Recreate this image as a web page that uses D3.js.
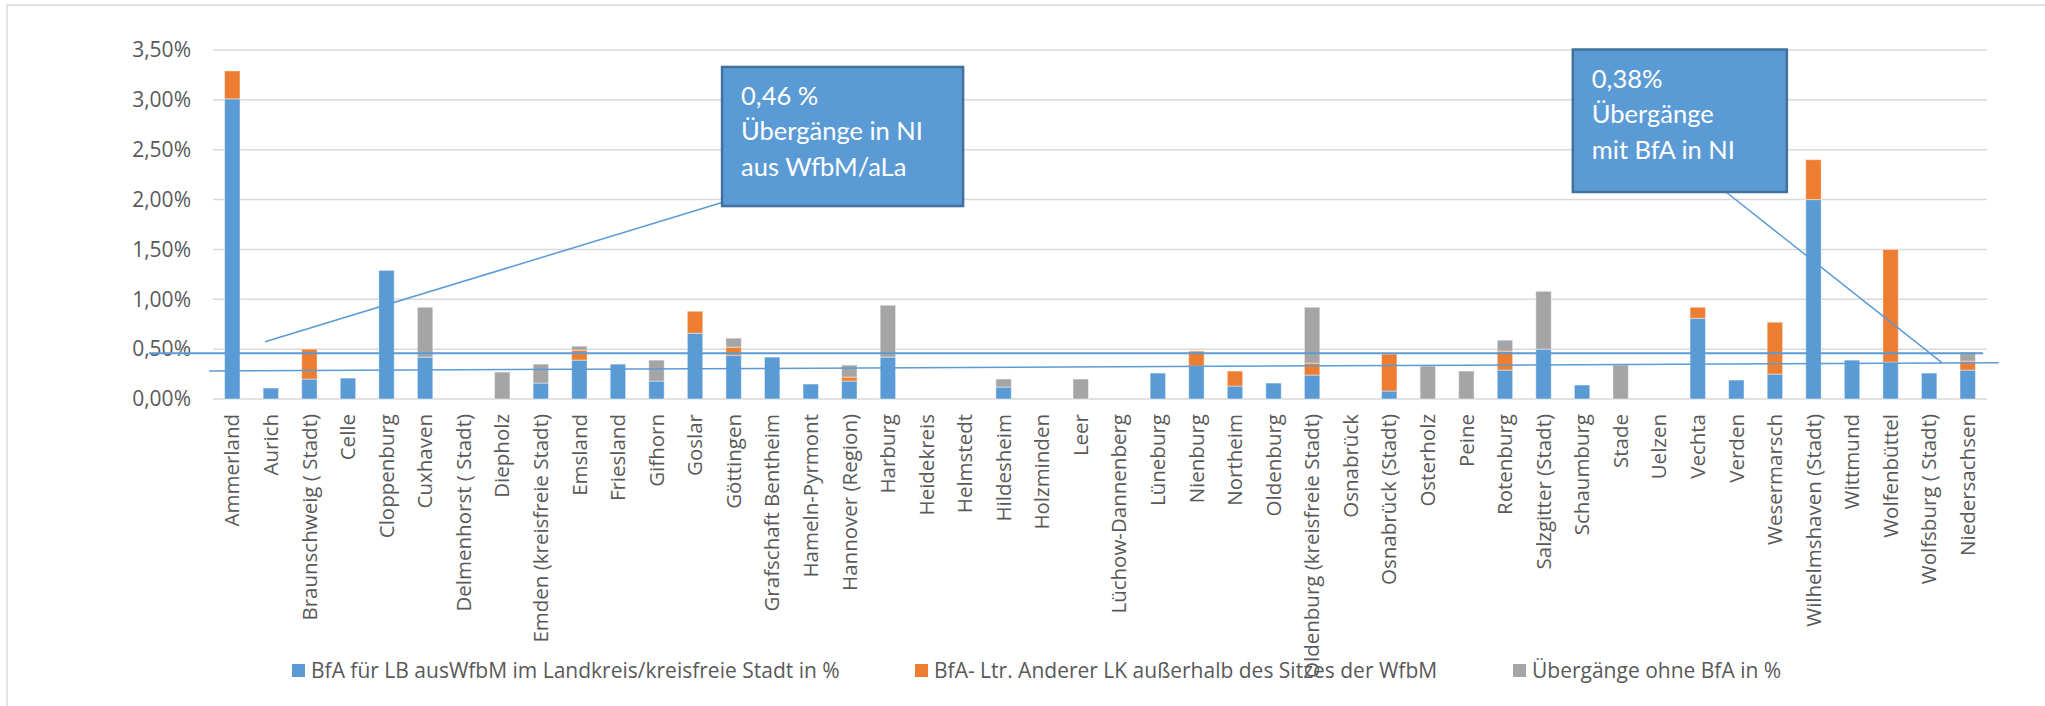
<!DOCTYPE html>
<html>
<head>
<meta charset="utf-8">
<script src="https://cdn.jsdelivr.net/npm/d3@7"></script>
<style>
  html, body { margin: 0; padding: 0; background: #fff; }
  svg { display: block; }
  text { font-family: "Open Sans", sans-serif; fill: #595959; }
</style>
</head>
<body>
<svg id="chart" width="2045" height="706"></svg>
<script>
// Kategorien (Landkreise / kreisfreie Städte)
const kreise = [
  "Ammerland", "Aurich", "Braunschweig ( Stadt)", "Celle", "Cloppenburg", "Cuxhaven",
  "Delmenhorst ( Stadt)", "Diepholz", "Emden (kreisfreie Stadt)", "Emsland", "Friesland",
  "Gifhorn", "Goslar", "Göttingen", "Grafschaft Bentheim", "Hameln-Pyrmont",
  "Hannover (Region)", "Harburg", "Heidekreis", "Helmstedt", "Hildesheim", "Holzminden",
  "Leer", "Lüchow-Dannenberg", "Lüneburg", "Nienburg", "Northeim", "Oldenburg",
  "Oldenburg (kreisfreie Stadt)", "Osnabrück", "Osnabrück (Stadt)", "Osterholz", "Peine",
  "Rotenburg", "Salzgitter (Stadt)", "Schaumburg", "Stade", "Uelzen", "Vechta", "Verden",
  "Wesermarsch", "Wilhelmshaven (Stadt)", "Wittmund", "Wolfenbüttel", "Wolfsburg ( Stadt)",
  "Niedersachsen"
];

// Werte in %
const bfaLandkreis = [
  3.01, 0.11, 0.20, 0.21, 1.29, 0.42, 0, 0, 0.16, 0.39, 0.35, 0.18, 0.66, 0.44, 0.42, 0.15,
  0.18, 0.42, 0, 0, 0.12, 0, 0, 0, 0.26, 0.33, 0.13, 0.16, 0.24, 0, 0.08, 0, 0,
  0.29, 0.50, 0.14, 0, 0, 0.81, 0.19, 0.25, 2.00, 0.39, 0.37, 0.26, 0.29
];
const bfaAndererLK = [
  0.28, 0, 0.30, 0, 0, 0, 0, 0, 0, 0.10, 0, 0, 0.22, 0.08, 0, 0,
  0.04, 0, 0, 0, 0, 0, 0, 0, 0, 0.15, 0.15, 0, 0.12, 0, 0.37, 0, 0,
  0.19, 0, 0, 0, 0, 0.11, 0, 0.52, 0.40, 0, 1.13, 0, 0.09
];
const ohneBfA = [
  0, 0, 0, 0, 0, 0.50, 0, 0.27, 0.19, 0.04, 0, 0.21, 0, 0.09, 0, 0,
  0.12, 0.52, 0, 0, 0.08, 0, 0.20, 0, 0, 0, 0, 0, 0.56, 0, 0, 0.33, 0.28,
  0.11, 0.58, 0, 0.34, 0, 0, 0, 0, 0, 0, 0, 0, 0.09
];

const serien = [
  "BfA für LB ausWfbM im Landkreis/kreisfreie Stadt in %",
  "BfA- Ltr. Anderer LK außerhalb des Sitzes der WfbM",
  "Übergänge ohne BfA in %"
];
const farben = ["#5B9BD5", "#ED7D31", "#A5A5A5"];

const yTicks = [0, 0.5, 1, 1.5, 2, 2.5, 3, 3.5];

// eingezeichnete Linien (Position in Kategorie-Einheiten, Wert in %)
const linien = [
  { x1: -1.66, y1: 0.46, x2: 45.9, y2: 0.46, w: 2 },
  { x1: -0.1, y1: 0.281, x2: 46.3, y2: 0.364, w: 1.5 }
];

// Legenden-Kästen
const callouts = [
  { lines: ["0,46 %", "Übergänge in NI", "aus WfbM/aLa"],
    x0: 13.2, x1: 19.45, top: 3.33, bottom: 1.935,
    px: 13.2, py: 1.97, tx: 1.35, ty: 0.575 },
  { lines: ["0,38%", "Übergänge", "mit BfA in NI"],
    x0: 35.26, x1: 40.81, top: 3.505, bottom: 2.076,
    px: 39.2, py: 2.086, tx: 44.83, ty: 0.364 }
];

const svg = d3.select("#chart");
const W = 2045, H = 706;
const plot = { left: 213, right: 1987, top: 50, bottom: 399 };

// Rahmen
svg.append("path")
  .attr("d", `M7,${H} V5 H${W}`)
  .attr("fill", "none")
  .attr("stroke", "#d9d9d9")
  .attr("stroke-width", 1.5);

const x = d3.scaleBand()
  .domain(kreise)
  .range([plot.left, plot.right])
  .paddingInner(0.6)
  .paddingOuter(0.3);

// Skala für Annotationen in Kategorie-Einheiten
const xi = d3.scaleLinear().domain([0, kreise.length]).range([plot.left, plot.right]);

const y = d3.scaleLinear().domain([0, 3.5]).range([plot.bottom, plot.top]);

const fmt = (v) => v.toFixed(2).replace(".", ",") + "%";

// Gitterlinien
svg.append("g")
  .selectAll("line")
  .data(yTicks)
  .join("line")
  .attr("x1", plot.left)
  .attr("x2", plot.right)
  .attr("y1", (d) => y(d))
  .attr("y2", (d) => y(d))
  .attr("stroke", "#d9d9d9")
  .attr("stroke-width", 1.5);

// y-Achse
svg.append("g")
  .selectAll("text")
  .data(yTicks)
  .join("text")
  .attr("x", 191)
  .attr("y", (d) => y(d))
  .attr("dy", "0.35em")
  .attr("text-anchor", "end")
  .style("font-size", "21px")
  .text(fmt);

// gestapelte Balken
const tabelle = kreise.map((k, i) => ({
  kreis: k, s0: bfaLandkreis[i], s1: bfaAndererLK[i], s2: ohneBfA[i]
}));
const stack = d3.stack().keys(["s0", "s1", "s2"])(tabelle);

svg.append("g")
  .selectAll("g")
  .data(stack)
  .join("g")
  .attr("fill", (d, i) => farben[i])
  .selectAll("rect")
  .data((d) => d.filter((p) => p[1] - p[0] > 0))
  .join("rect")
  .attr("x", (d) => x(d.data.kreis))
  .attr("width", x.bandwidth())
  .attr("y", (d) => y(d[1]))
  .attr("height", (d) => y(d[0]) - y(d[1]))
  .attr("stroke", "#fff")
  .attr("stroke-opacity", 0.45)
  .attr("stroke-width", 1);

// Kategorie-Beschriftung
svg.append("g")
  .selectAll("text")
  .data(kreise)
  .join("text")
  .attr("transform", (d) => `translate(${x(d) + x.bandwidth() / 2},414) rotate(-90)`)
  .attr("dy", "0.35em")
  .attr("text-anchor", "end")
  .style("font-size", "20.5px")
  .text((d) => d);

// Linien
svg.append("g")
  .selectAll("line")
  .data(linien)
  .join("line")
  .attr("x1", (d) => xi(d.x1))
  .attr("y1", (d) => y(d.y1))
  .attr("x2", (d) => xi(d.x2))
  .attr("y2", (d) => y(d.y2))
  .attr("stroke", "#5B9BD5")
  .attr("stroke-width", (d) => d.w);

// Callouts
const co = svg.append("g")
  .selectAll("g")
  .data(callouts)
  .join("g");

co.append("line")
  .attr("x1", (d) => xi(d.px))
  .attr("y1", (d) => y(d.py))
  .attr("x2", (d) => xi(d.tx))
  .attr("y2", (d) => y(d.ty))
  .attr("stroke", "#5B9BD5")
  .attr("stroke-width", 1.5);

co.append("rect")
  .attr("x", (d) => xi(d.x0))
  .attr("y", (d) => y(d.top))
  .attr("width", (d) => xi(d.x1) - xi(d.x0))
  .attr("height", (d) => y(d.bottom) - y(d.top))
  .attr("fill", "#5B9BD5")
  .attr("stroke", "#41719C")
  .attr("stroke-width", 2.5);

co.each(function (d) {
  d3.select(this).selectAll("text.zeile")
    .data(d.lines)
    .join("text")
    .attr("class", "zeile")
    .attr("x", xi(d.x0) + 19)
    .attr("y", (t, j) => y(d.top) + 38 + j * 35.5)
    .style("font-family", "Lato, sans-serif")
    .style("font-size", "25.5px")
    .style("fill", "#fff")
    .text((t) => t);
});

// Legende
const legX = [292, 915, 1513];
const leg = svg.append("g")
  .selectAll("g")
  .data(serien)
  .join("g")
  .attr("transform", (d, i) => `translate(${legX[i]},664)`);

leg.append("rect")
  .attr("width", 13)
  .attr("height", 13)
  .attr("fill", (d, i) => farben[i]);

leg.append("text")
  .attr("x", 19)
  .attr("y", 6.5)
  .attr("dy", "0.35em")
  .style("font-size", "21px")
  .text((d) => d);
</script>
</body>
</html>
